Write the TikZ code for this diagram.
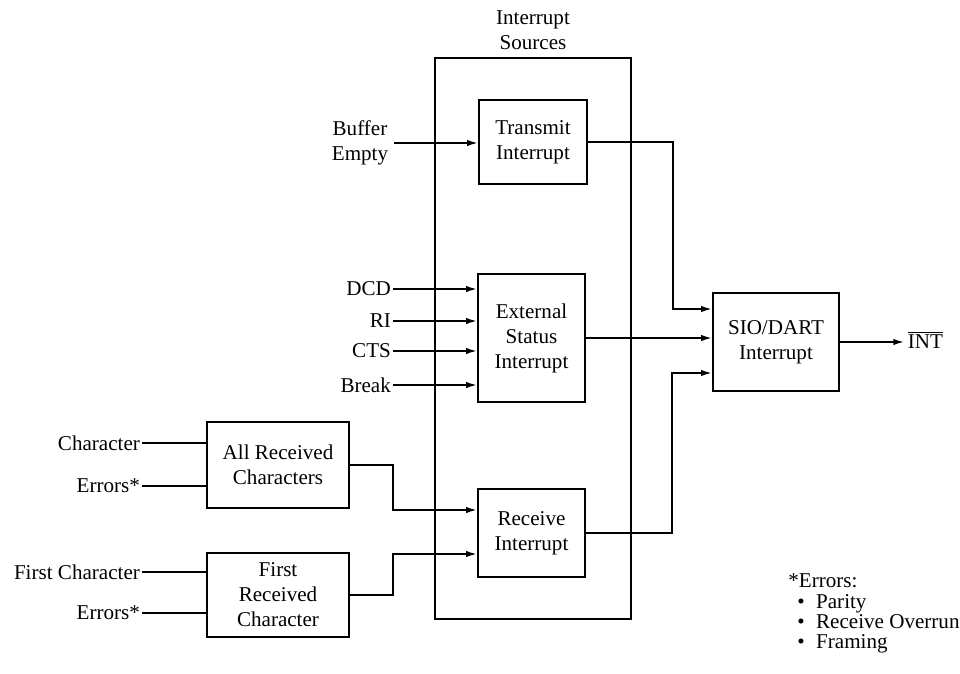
\documentclass[tikz,border=0pt]{standalone}
\usepackage{fontspec}
\setmainfont{Liberation Serif}
\usepackage{tikz}
\usetikzlibrary{positioning,calc,arrows.meta}
\newcommand{\txtfont}{\fontsize{12}{14.2}\selectfont}
\tikzset{
  blk/.style    = {draw=black, line width=1.4pt, align=center, inner sep=2pt, font=\txtfont},
  srcbox/.style = {draw=black, line width=1.2pt, minimum width=3.92cm, minimum height=11.22cm, inner sep=0pt},
  ttl/.style    = {font=\txtfont, align=center},
  lbl/.style    = {font=\txtfont, anchor=east, inner sep=1pt},
  note/.style   = {font=\txtfont, anchor=west, inner sep=0pt},
  wire/.style   = {line width=0.9pt},
  arr/.style    = {wire, -{Latex[length=6pt,width=3.6pt]}},
}

\begin{document}
\begin{tikzpicture}[x=0.02cm,y=-0.02cm]
  \useasboundingbox (0,0) rectangle (960,673);

  % interrupt sources
  \node[srcbox] (src) at (533,338.5) {};
  \node[ttl] (srclbl) at (533,30) {Interrupt\\Sources};
  \node[blk, minimum width=2.16cm, minimum height=1.68cm] (tx) at (533,142) {Transmit\\Interrupt};
  \node[blk, minimum width=2.14cm, minimum height=2.56cm] (ext) at (531.5,338) {External\\Status\\Interrupt};
  \node[blk, minimum width=2.14cm, minimum height=1.76cm] (rx) at (531.5,533) {Receive\\Interrupt};

  % sio/dart
  \node[blk, minimum width=2.52cm, minimum height=1.96cm] (sio) at (776,342) {SIO/DART\\Interrupt};
  \node[note, inner sep=2pt] (int) at (904,340) {$\overline{\hbox{INT}}$};

  % receive conditions
  \node[blk, minimum width=2.84cm, minimum height=1.72cm] (allrx) at (278,465) {All Received\\Characters};
  \node[blk, minimum width=2.84cm, minimum height=1.68cm] (firstrx) at (278,595) {First\\Received\\Character};

  % input labels
  \node[ttl] (bufe) at (360,143) {Buffer\\Empty};
  \node[lbl] (dcd) at (393,289) {DCD};
  \node[lbl] (ri) at (393,321) {RI};
  \node[lbl] (cts) at (393,351) {CTS};
  \node[lbl] (brk) at (393,385) {Break};
  \node[lbl] (chr) at (142,443) {Character};
  \node[lbl] (err1) at (142,486) {Errors*};
  \node[lbl] (fchr) at (142,572) {First Character};
  \node[lbl] (err2) at (142,613) {Errors*};

  \draw[arr] (bufe.east) -- (bufe.east -| tx.west);
  \draw[arr] (dcd.east) -- (dcd.east -| ext.west);
  \draw[arr] (ri.east) -- (ri.east -| ext.west);
  \draw[arr] (cts.east) -- (cts.east -| ext.west);
  \draw[arr] (brk.east) -- (brk.east -| ext.west);
  \draw[wire] (chr.east) -- (chr.east -| allrx.west);
  \draw[wire] (err1.east) -- (err1.east -| allrx.west);
  \draw[wire] (fchr.east) -- (fchr.east -| firstrx.west);
  \draw[wire] (err2.east) -- (err2.east -| firstrx.west);

  \draw[arr] (allrx.east) -- ++(43,0) |- ([yshift=0.46cm]rx.west);
  \draw[arr] (firstrx.east) -- ++(43,0) |- ([yshift=-0.42cm]rx.west);

  \draw[arr] (tx.east) -- ++(85,0) |- ([yshift=0.66cm]sio.west);
  \draw[arr] (ext.east) -- (ext.east -| sio.west);
  \draw[arr] (rx.east) -- ++(86,0) |- ([yshift=-0.62cm]sio.west);
  \draw[arr] (sio.east) -- (sio.east -| int.west);

  % error legend
  \node[note, anchor=base west] (errs) at (788,587) {*Errors:};
  \node[note, anchor=base west] (par) at (797,608) {\textbullet\hspace{6.5pt}Parity};
  \node[note, anchor=base west] (ovr) at (797,628) {\textbullet\hspace{6.5pt}Receive Overrun};
  \node[note, anchor=base west] (frm) at (797,648) {\textbullet\hspace{6.5pt}Framing};
\end{tikzpicture}
\end{document}
